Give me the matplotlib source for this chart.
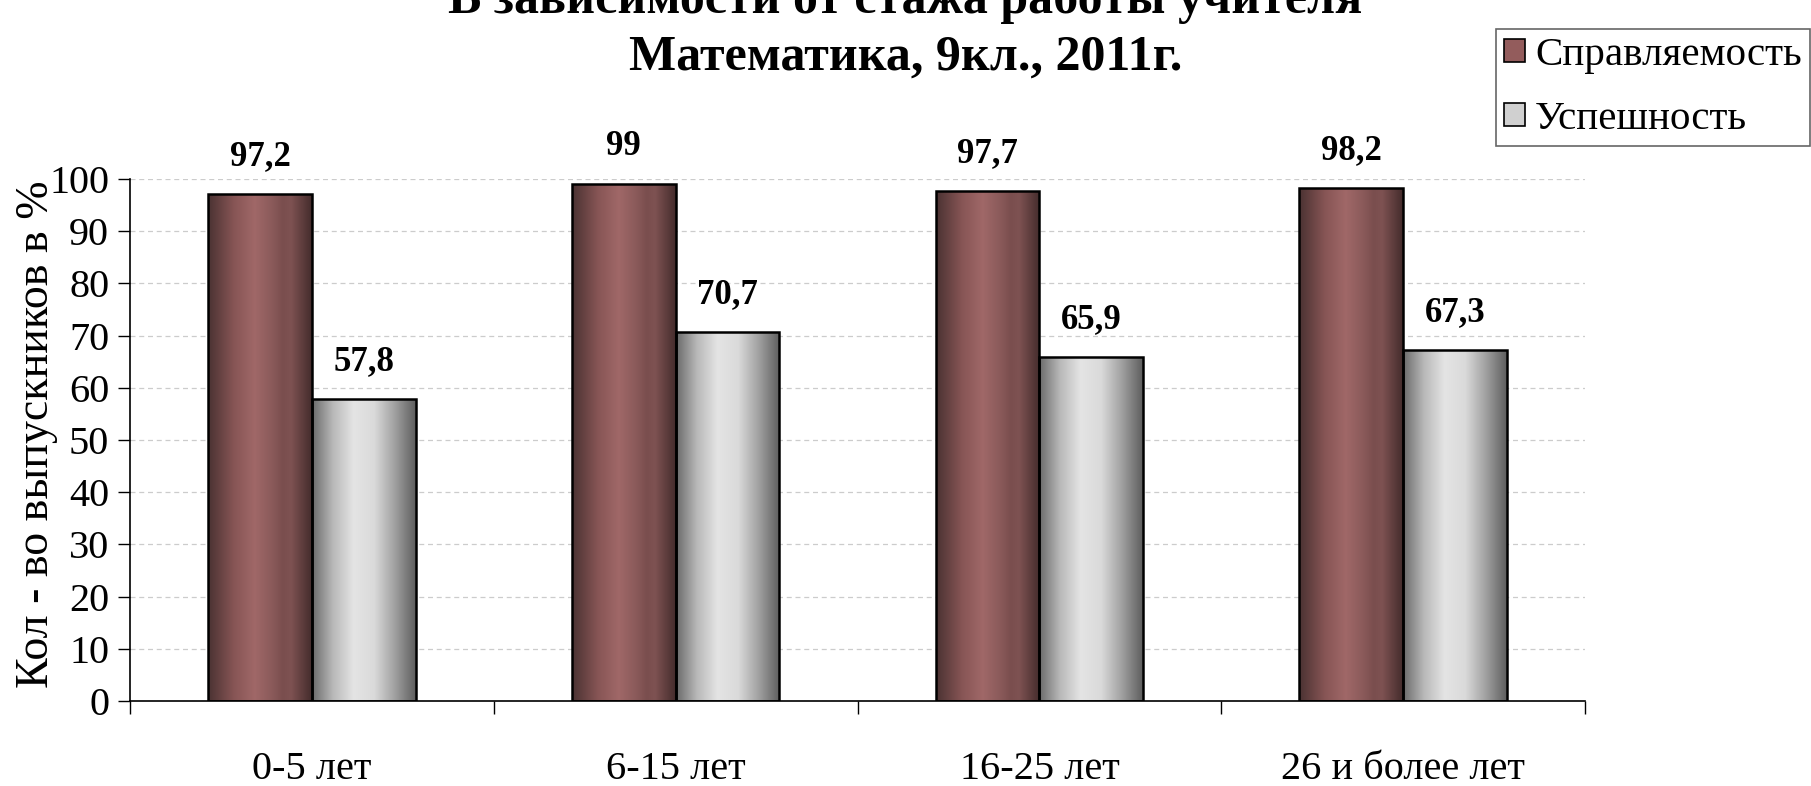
import numpy as np
import matplotlib
matplotlib.use("Agg")
import matplotlib.pyplot as plt
from matplotlib.colors import LinearSegmentedColormap
from matplotlib.patches import Rectangle

categories = ["0-5 лет", "6-15 лет", "16-25 лет", "26 и более лет"]
series_names = ["Справляемость", "Успешность"]
spravl = [97.2, 99, 97.7, 98.2]
uspesh = [57.8, 70.7, 65.9, 67.3]
value_labels_1 = ["97,2", "99", "97,7", "98,2"]
value_labels_2 = ["57,8", "70,7", "65,9", "67,3"]
title_line1 = "В зависимости от стажа работы учителя"
title_line2 = "Математика, 9кл., 2011г."
ylabel = "Кол - во выпускников в %"

plt.rcParams['font.family'] = ['Liberation Serif', 'DejaVu Serif']

brown_cmap = LinearSegmentedColormap.from_list(
    "brown", [(0.0, '#4a3232'), (0.25, '#875555'), (0.45, '#a06868'),
              (0.62, '#8a5a5a'), (0.72, '#7a4e4e'), (0.8, '#7e5252'), (1.0, '#442c2c')])
gray_cmap = LinearSegmentedColormap.from_list(
    "gray", [(0.0, '#6a6a6a'), (0.2, '#b8b8b8'), (0.4, '#e4e4e4'),
             (0.6, '#dadada'), (0.8, '#a0a0a0'), (1.0, '#5e5e5e')])

fig = plt.figure(figsize=(18.11, 7.86), dpi=100)
ax = fig.add_axes([130/1811, 1-701/786, (1585-130)/1811, (701-179)/786])

x = np.arange(len(categories))
w = 0.285
grad = np.linspace(0, 1, 256).reshape(1, -1)

ax.set_xlim(-0.5, len(categories) - 0.5)
ax.set_ylim(0, 100)
ax.yaxis.grid(True, linestyle=(0, (4, 3)), color='#cccccc', linewidth=0.9, zorder=0)
ax.set_axisbelow(True)

def draw_bars(offset, vals, cmap):
    bars = ax.bar(x + offset, vals, width=w, color='none', edgecolor='black',
                  linewidth=1.8, zorder=3)
    for b in bars:
        x0, y0 = b.get_x(), b.get_y()
        bw, bh = b.get_width(), b.get_height()
        im = ax.imshow(grad, cmap=cmap, aspect='auto', extent=(x0, x0 + bw, y0, y0 + bh),
                       zorder=2, interpolation='bilinear')
        clip = Rectangle((x0, y0), bw, bh, transform=ax.transData)
        im.set_clip_path(clip)
    return bars

b1 = draw_bars(-w/2, spravl, brown_cmap)
b2 = draw_bars(w/2, uspesh, gray_cmap)
ax.set_xlim(-0.5, len(categories) - 0.5)
ax.set_ylim(0, 100)

for bars, labs in ((b1, value_labels_1), (b2, value_labels_2)):
    for b, lab in zip(bars, labs):
        ax.annotate(lab, (b.get_x() + b.get_width()/2, b.get_height()),
                    xytext=(0, 15), textcoords='offset points', ha='center', va='bottom',
                    fontsize=25, fontweight='bold', zorder=5)

ax.set_yticks(np.arange(0, 101, 10))
ax.tick_params(axis='y', direction='out', length=9, width=1, labelsize=29, pad=6)
ax.set_xticks(x)
ax.set_xticklabels(categories)
ax.tick_params(axis='x', which='major', length=0, labelsize=29, pad=36)
ax.set_xticks(np.arange(-0.5, len(categories), 1), minor=True)
ax.tick_params(axis='x', which='minor', direction='out', length=9, width=1)
for s in ('top', 'right'):
    ax.spines[s].set_visible(False)
for s in ('left', 'bottom'):
    ax.spines[s].set_linewidth(1.2)

fig.text(37/1811, 1-(176+693)/2/786, ylabel, rotation=90, ha='center', va='center', fontsize=33)

fig.text(0.5, 1-13/786, title_line1, ha='center', va='baseline', fontsize=36, fontweight='bold')
fig.text(0.5, 1-70/786, title_line2, ha='center', va='baseline', fontsize=36, fontweight='bold')

handles = [Rectangle((0, 0), 1, 1, facecolor='#935c5c', edgecolor='black', linewidth=1.2),
           Rectangle((0, 0), 1, 1, facecolor='#d0d0d0', edgecolor='black', linewidth=1.2)]
leg = fig.legend(handles, series_names, loc='upper left',
                 bbox_to_anchor=(1496/1811, 1-29/786), fontsize=29.5, frameon=True,
                 fancybox=False, edgecolor='#404040', handlelength=0.5, handleheight=0.5,
                 handletextpad=0.25, labelspacing=0.65, borderpad=0.2, borderaxespad=0)
leg.get_frame().set_linewidth(1.2)

fig.savefig("out.png", dpi=100)
